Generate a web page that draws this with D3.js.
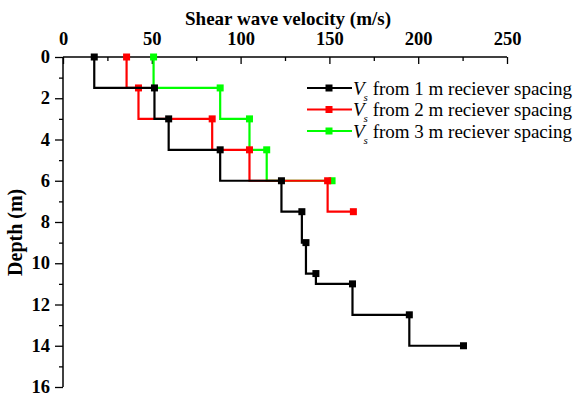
<!DOCTYPE html>
<html>
<head>
<meta charset="utf-8">
<script src="https://cdn.jsdelivr.net/npm/d3@7"></script>
<style>
  body { margin: 0; background: #fff; }
  svg text { font-family: 'Liberation Serif', 'Times New Roman', serif; }
</style>
</head>
<body>
<div id="chart"></div>
<script>
// velocity (m/s) at the top of each layer, with its depth (m)
const depth1 = [0, 1.5, 3, 4.5, 6, 7.5, 9, 10.5, 11, 12.5, 14];
const vs1 = [17.6, 51.5, 59.5, 88.5, 123, 134.5, 136.8, 142.4, 163, 195, 225.5];
const depth2 = [0, 1.5, 3, 4.5, 6, 7.5];
const vs2 = [35.8, 42.5, 84, 105, 149, 163.5];
const depth3 = [0, 1.5, 3, 4.5, 6];
const vs3 = [51, 88.5, 105, 114.7, 151.5];

const seriesNames = ['1', '2', '3'];
const seriesColors = ['#000000', '#ff0000', '#00ff00'];

const xTicks = [0, 50, 100, 150, 200, 250];
const yTicks = [0, 2, 4, 6, 8, 10, 12, 14, 16];

const width = 574;
const height = 396;
const margin = { top: 57, right: 67, bottom: 9, left: 63 };

const x = d3.scaleLinear().domain([0, 250]).range([margin.left, width - margin.right]);
const y = d3.scaleLinear().domain([0, 16]).range([margin.top, height - margin.bottom]);

const svg = d3.select('#chart').append('svg')
  .attr('width', width)
  .attr('height', height)
  .attr('viewBox', [0, 0, width, height]);

/* AXES */

const xAxis = (g) => g
  .attr('transform', `translate(0, ${margin.top})`)
  .call(d3.axisTop(x).tickValues(d3.range(0, 251, 25)).tickSize(-7).tickPadding(12)
    .tickFormat((d) => (xTicks.includes(d) ? d : '')))
  .call(() => g.select('.domain').attr('stroke-width', 1.5).attr('d', `M${x(0)},0H${x(250)}`))
  .call(() => g.selectAll('.tick line')
    .attr('stroke-width', 1.3)
    .attr('y2', (d) => (xTicks.includes(d) ? 7 : 4)))
  .call(() => g.selectAll('.tick text')
    .attr('font-size', 18.5).attr('font-weight', 'bold').attr('fill', '#000'));

const yAxis = (g) => g
  .attr('transform', `translate(${margin.left}, 0)`)
  .call(d3.axisLeft(y).tickValues(d3.range(0, 17, 1)).tickSize(8).tickPadding(5)
    .tickFormat((d) => (yTicks.includes(d) ? d : '')))
  .call(() => g.select('.domain').attr('stroke-width', 1.5).attr('d', `M0,${y(0)}V${y(16)}`))
  .call(() => g.selectAll('.tick line')
    .attr('stroke-width', 1.3)
    .attr('x2', (d) => (yTicks.includes(d) ? -8 : -4)))
  .call(() => g.selectAll('.tick text')
    .attr('font-size', 18.5).attr('font-weight', 'bold').attr('fill', '#000')
    .attr('dy', '0.3em'));

svg.append('g').call(xAxis);
svg.append('g').call(yAxis);

svg.append('text')
  .attr('x', (x(0) + x(250)) / 2 + 3)
  .attr('y', 24.5)
  .attr('text-anchor', 'middle')
  .attr('font-size', 19)
  .attr('font-weight', 'bold')
  .text('Shear wave velocity (m/s)');

svg.append('text')
  .attr('transform', `translate(22, ${y(8.5)}) rotate(-90)`)
  .attr('text-anchor', 'middle')
  .attr('font-size', 20)
  .attr('font-weight', 'bold')
  .text('Depth (m)');

/* PROFILES */

const profiles = [
  depth1.map((d, i) => [vs1[i], d]),
  depth2.map((d, i) => [vs2[i], d]),
  depth3.map((d, i) => [vs3[i], d]),
];

const line = d3.line()
  .x((d) => x(d[0]))
  .y((d) => y(d[1]))
  .curve(d3.curveStepBefore);

// draw back to front so the black profile sits on top
[2, 1, 0].forEach((k) => {
  const g = svg.append('g');
  g.append('path')
    .datum(profiles[k])
    .attr('fill', 'none')
    .attr('stroke', seriesColors[k])
    .attr('stroke-width', 2.2)
    .attr('d', line);
  g.selectAll('rect')
    .data(profiles[k])
    .join('rect')
    .attr('x', (d) => x(d[0]) - 3.5)
    .attr('y', (d) => y(d[1]) - 3.5)
    .attr('width', 7)
    .attr('height', 7)
    .attr('fill', seriesColors[k]);
});

/* LEGEND */

const legend = svg.append('g')
  .selectAll('g')
  .data(seriesNames)
  .join('g')
  .attr('transform', (d, i) => `translate(307, ${88 + i * 21.5})`);

legend.append('line')
  .attr('x1', 0).attr('x2', 45)
  .attr('stroke', (d, i) => seriesColors[i])
  .attr('stroke-width', 2.2);

legend.append('rect')
  .attr('x', 18.5).attr('y', -3.5)
  .attr('width', 7).attr('height', 7)
  .attr('fill', (d, i) => seriesColors[i]);

const label = legend.append('text')
  .attr('x', 46)
  .attr('y', 6.5)
  .attr('font-size', 19);

label.append('tspan').attr('font-style', 'italic').text('V');
label.append('tspan').attr('font-style', 'italic').attr('font-size', 11).attr('dy', 6).attr('dx', -1).text('s');
label.append('tspan').attr('dy', -6).text((d) => ` from ${d} m reciever spacing`);
</script>
</body>
</html>
